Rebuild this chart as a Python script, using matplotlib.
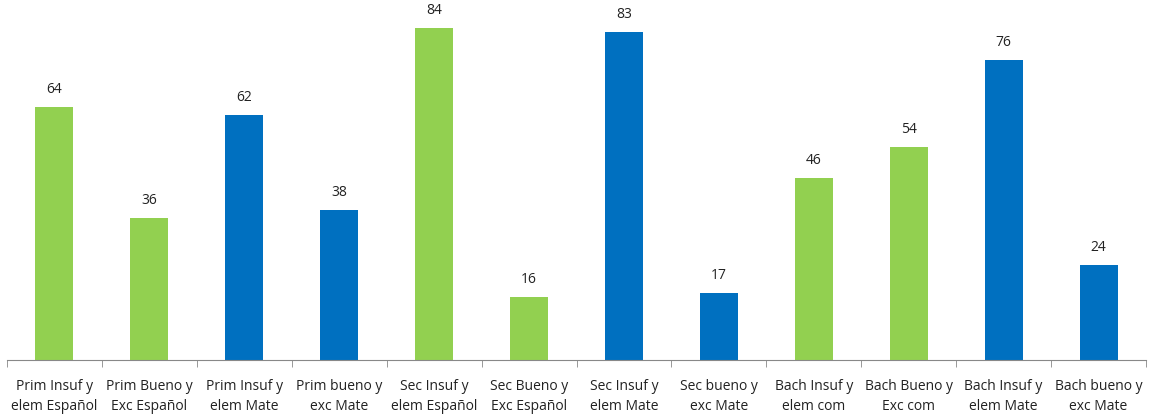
import matplotlib
matplotlib.use("Agg")
import matplotlib.pyplot as plt
import numpy as np

categories = ["Prim Insuf y\nelem Español", "Prim Bueno y\nExc Español", "Prim Insuf y\nelem Mate",
              "Prim bueno y\nexc Mate", "Sec Insuf y\nelem Español", "Sec Bueno y\nExc Español",
              "Sec Insuf y\nelem Mate", "Sec bueno y\nexc Mate", "Bach Insuf y\nelem com",
              "Bach Bueno y\nExc com", "Bach Insuf y\nelem Mate", "Bach bueno y\nexc Mate"]
values = [64, 36, 62, 38, 84, 16, 83, 17, 46, 54, 76, 24]
colors = ["#92D050", "#92D050", "#0070C0", "#0070C0",
          "#92D050", "#92D050", "#0070C0", "#0070C0",
          "#92D050", "#92D050", "#0070C0", "#0070C0"]

plt.rcParams['font.family'] = ['Open Sans', 'DejaVu Sans']

fig = plt.figure(figsize=(11.49, 4.17), dpi=100)
ax = fig.add_axes([7/1149, 57/417, 1139/1149, 360/417])

x = np.arange(len(values))
bars = ax.bar(x, values, width=0.4, color=colors)
for xi, v in zip(x, values):
    ax.text(xi, v + 2.6, str(v), ha="center", va="bottom", fontsize=10, color="#222222")

ax.set_xlim(-0.5, len(values) - 0.5)
ax.set_ylim(0, 91.2)
ax.set_xticks(x)
ax.set_xticklabels(categories, fontsize=10, color="#222222", linespacing=1.45)
ax.set_xticks(np.arange(-0.5, len(values)), minor=True)
ax.tick_params(axis="x", which="major", length=0, pad=14)
ax.tick_params(axis="x", which="minor", length=5, color="#888888")
ax.set_yticks([])
for s in ["top", "right", "left"]:
    ax.spines[s].set_visible(False)
ax.spines["bottom"].set_color("#888888")

fig.savefig("out.png", dpi=100)
